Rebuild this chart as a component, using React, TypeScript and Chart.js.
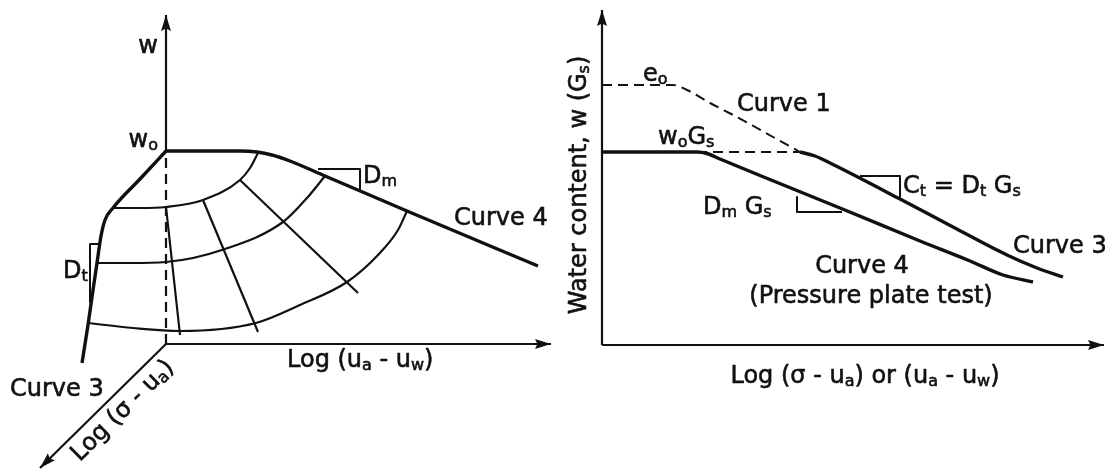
import { useEffect, useRef } from "react";
import { Chart, registerables } from "chart.js";

Chart.register(...registerables);

type Pt = [number, number];

// ---------- Left panel: water content surface (oblique 3-D sketch) ----------
// Units: horizontal = log(ua - uw) direction, vertical = w; the log(σ - ua) axis is drawn at 45°.
const wAxisSolid: Pt[] = [[0, 19.3], [0, 32.9]];
const wAxisHidden: Pt[] = [[0, 0], [0, 19.3]];
const suctionAxis: Pt[] = [[0, 0], [38.5, 0]];
const netStressAxis: Pt[] = [[0, 0], [-12.6, -12.4]];

const curve4Left: Pt[] = [[0, 19.3], [7.4, 19.3], [9.1, 19.2], [10.6, 18.9], [12.4, 18.3], [15.9, 16.8], [24.1, 13.3], [37.2, 7.8]];
const curve3Left: Pt[] = [[0, 19.3], [-2.6, 16.5], [-5.3, 13.6], [-6.1, 12.4], [-6.5, 10.8], [-6.9, 8.1], [-7.4, 4.7], [-7.8, 1.9], [-8.4, -1.9]];

const netStressArcA: Pt[] = [[-5.3, 13.6], [-2.6, 13.6], [0, 13.7], [3.7, 14.4], [7.4, 16.4], [8.4, 17.6], [9.2, 19.1]];
const netStressArcB: Pt[] = [[-6.8, 8.1], [-3.6, 8.1], [0, 8.2], [5.9, 9.5], [11.7, 12.2], [14.1, 14.6], [15.9, 16.8]];
const netStressArcC: Pt[] = [[-7.8, 2.1], [-3.3, 1.6], [1.4, 1.3], [9.0, 2.1], [13.4, 3.9], [18.1, 6.2], [21.2, 8.9], [23.2, 11.4], [24.1, 13.3]];

const suctionLine1: Pt[] = [[0, 13.7], [1.4, 0.9]];
const suctionLine2: Pt[] = [[3.7, 14.4], [9.2, 1.2]];
const suctionLine3: Pt[] = [[7.4, 16.4], [19.2, 5.1]];

const dtSlope: Pt[] = [[-6.6, 10.0], [-7.6, 10.0], [-7.6, 4.2]];
const dmSlope: Pt[] = [[15.2, 17.5], [19.4, 17.5], [19.4, 15.5]];

// ---------- Right panel: w(Gs) against log stress ----------
const yAxisRight: Pt[] = [[0, 0], [0, 33.5]];
const xAxisRight: Pt[] = [[0, 0], [50.2, 0]];

const curve1Right: Pt[] = [[0, 26.0], [7.1, 26.0], [8.5, 25.5], [10.8, 24.2], [13.5, 22.8], [17.1, 20.8], [19.8, 19.3]];
const initialLevel: Pt[] = [[9.5, 19.3], [19.8, 19.3]];
const curve4Right: Pt[] = [[0, 19.3], [9.5, 19.3], [10.5, 19.15], [11.8, 18.6], [15.8, 16.95], [23.8, 13.7], [31.8, 10.4], [36.8, 8.4], [40.1, 7.0], [43.1, 6.3]];
const curve3Right: Pt[] = [[19.8, 19.3], [21.3, 18.9], [22.8, 18.2], [29.8, 14.6], [35.1, 11.8], [40.5, 9.0], [43.5, 7.7], [46.1, 6.8]];

const ctSlope: Pt[] = [[25.8, 16.9], [29.8, 16.9], [29.8, 14.7]];
const dmGsSlope: Pt[] = [[19.5, 14.8], [19.5, 13.3], [24.0, 13.3]];

// ---------- Annotations ----------
type Note = { text: string; x: number; y: number; align: "left" | "center" | "right"; rotate?: number };

const leftNotes: Note[] = [
  { text: "w", x: -1.8, y: 29.7, align: "center" },
  { text: "w_{o}", x: -0.8, y: 20.3, align: "right" },
  { text: "D_{m}", x: 19.7, y: 16.7, align: "left" },
  { text: "D_{t}", x: -10.3, y: 7.2, align: "left" },
  { text: "Curve 4", x: 28.8, y: 12.5, align: "left" },
  { text: "Curve 3", x: -15.6, y: -4.6, align: "left" },
  { text: "Log (u_{a} - u_{w})", x: 12.1, y: -1.7, align: "left" },
  { text: "Log (σ - u_{a})", x: -4.3, y: -6.7, align: "center", rotate: -44.5 },
];

const rightNotes: Note[] = [
  { text: "e_{o}", x: 4.1, y: 27.0, align: "left" },
  { text: "Curve 1", x: 13.5, y: 24.0, align: "left" },
  { text: "w_{o}G_{s}", x: 5.6, y: 20.7, align: "left" },
  { text: "D_{m} G_{s}", x: 10.1, y: 13.7, align: "left" },
  { text: "C_{t} = D_{t} G_{s}", x: 30.1, y: 15.8, align: "left" },
  { text: "Curve 3", x: 41.1, y: 9.8, align: "left" },
  { text: "Curve 4", x: 26.0, y: 7.8, align: "center" },
  { text: "(Pressure plate test)", x: 26.9, y: 4.8, align: "center" },
  { text: "Log (σ - u_{a}) or (u_{a} - u_{w})", x: 26.3, y: -3.2, align: "center" },
  { text: "Water content, w (G_{s})", x: -2.2, y: 16.0, align: "center", rotate: -90 },
];

const INK = "#111111";
const FONT = '"DejaVu Sans", "Liberation Sans", sans-serif';
const MAIN_SIZE = 24;
const SUB_SIZE = 16;
const SUB_DROP = 5;

function parseRich(text: string) {
  const parts: { t: string; sub: boolean }[] = [];
  const re = /_\{([^}]*)\}/g;
  let last = 0;
  let m: RegExpExecArray | null;
  while ((m = re.exec(text))) {
    if (m.index > last) parts.push({ t: text.slice(last, m.index), sub: false });
    parts.push({ t: m[1], sub: true });
    last = re.lastIndex;
  }
  if (last < text.length) parts.push({ t: text.slice(last), sub: false });
  return parts;
}

const notesPlugin = {
  id: "diagramNotes",
  afterDatasetsDraw(chart: any, _args: any, opts: any) {
    const notes: Note[] = opts.notes || [];
    const ctx: CanvasRenderingContext2D = chart.ctx;
    const xs = chart.scales.x;
    const ys = chart.scales.y;
    ctx.save();
    ctx.fillStyle = INK;
    ctx.strokeStyle = INK;
    ctx.lineWidth = 0.6;
    ctx.lineJoin = "round";
    ctx.textBaseline = "middle";
    ctx.textAlign = "left";
    for (const n of notes) {
      const parts = parseRich(n.text);
      const widths = parts.map((p) => {
        ctx.font = `${p.sub ? SUB_SIZE : MAIN_SIZE}px ${FONT}`;
        return ctx.measureText(p.t).width;
      });
      const total = widths.reduce((a, b) => a + b, 0);
      ctx.save();
      ctx.translate(xs.getPixelForValue(n.x), ys.getPixelForValue(n.y));
      if (n.rotate) ctx.rotate((n.rotate * Math.PI) / 180);
      let x = n.align === "left" ? 0 : n.align === "center" ? -total / 2 : -total;
      parts.forEach((p, i) => {
        ctx.font = `${p.sub ? SUB_SIZE : MAIN_SIZE}px ${FONT}`;
        const y = p.sub ? SUB_DROP : 0;
        ctx.fillText(p.t, x, y);
        ctx.strokeText(p.t, x, y);
        x += widths[i];
      });
      ctx.restore();
    }
    ctx.restore();
  },
};

const arrowPlugin = {
  id: "axisArrows",
  afterDatasetsDraw(chart: any) {
    const ctx: CanvasRenderingContext2D = chart.ctx;
    chart.data.datasets.forEach((ds: any, i: number) => {
      if (!ds.arrowHead) return;
      const pts = chart.getDatasetMeta(i).data;
      const a = pts[pts.length - 2];
      const b = pts[pts.length - 1];
      const ang = Math.atan2(b.y - a.y, b.x - a.x);
      const len = 16;
      const half = 5;
      ctx.save();
      ctx.translate(b.x, b.y);
      ctx.rotate(ang);
      ctx.beginPath();
      ctx.moveTo(0, 0);
      ctx.lineTo(-len, -half);
      ctx.lineTo(-len * 0.85, 0);
      ctx.lineTo(-len, half);
      ctx.closePath();
      ctx.fillStyle = INK;
      ctx.fill();
      ctx.restore();
    });
  },
};

function line(pts: Pt[], width: number, extra: Record<string, unknown> = {}) {
  return {
    data: pts.map(([x, y]) => ({ x, y })),
    showLine: true,
    borderColor: INK,
    backgroundColor: INK,
    borderWidth: width,
    pointRadius: 0,
    pointHoverRadius: 0,
    fill: false,
    tension: 0,
    borderCapStyle: "butt",
    borderJoinStyle: "round",
    ...extra,
  };
}

const DASH = [10, 6];
const SMOOTH = { cubicInterpolationMode: "monotone", tension: 0.4 };

function leftDatasets() {
  return [
    line(wAxisSolid, 2.2, { arrowHead: true }),
    line(wAxisHidden, 2.2, { borderDash: DASH }),
    line(suctionAxis, 2.2, { arrowHead: true }),
    line(netStressAxis, 2.2, { arrowHead: true }),
    line(netStressArcA, 2.2, SMOOTH),
    line(netStressArcB, 2.2, SMOOTH),
    line(netStressArcC, 2.2, SMOOTH),
    line(suctionLine1, 2.2),
    line(suctionLine2, 2.2),
    line(suctionLine3, 2.2),
    line(dtSlope, 2),
    line(dmSlope, 2),
    line(curve4Left, 3.4, SMOOTH),
    line(curve3Left, 3.4, SMOOTH),
  ];
}

function rightDatasets() {
  return [
    line(yAxisRight, 2.2, { arrowHead: true }),
    line(xAxisRight, 2.2, { arrowHead: true }),
    line(curve1Right, 2, { borderDash: DASH, ...SMOOTH }),
    line(initialLevel, 2, { borderDash: DASH }),
    line(ctSlope, 2),
    line(dmGsSlope, 2),
    line(curve4Right, 3.4, SMOOTH),
    line(curve3Right, 3.4, SMOOTH),
  ];
}

function makeConfig(datasets: any[], xr: [number, number], yr: [number, number], notes: Note[]): any {
  return {
    type: "scatter",
    data: { datasets },
    options: {
      responsive: false,
      maintainAspectRatio: false,
      animation: false,
      events: [],
      layout: { padding: 0 },
      plugins: {
        legend: { display: false },
        tooltip: { enabled: false },
        diagramNotes: { notes },
      },
      scales: {
        x: { type: "linear", display: false, min: xr[0], max: xr[1] },
        y: { type: "linear", display: false, min: yr[0], max: yr[1] },
      },
    },
    plugins: [notesPlugin, arrowPlugin],
  };
}

export default function App() {
  const leftRef = useRef<HTMLCanvasElement>(null);
  const rightRef = useRef<HTMLCanvasElement>(null);

  useEffect(() => {
    const left = new Chart(
      leftRef.current!,
      makeConfig(leftDatasets(), [-16.6, 39.4], [-12.7, 34.4], leftNotes)
    );
    const right = new Chart(
      rightRef.current!,
      makeConfig(rightDatasets(), [-4.2, 50.4], [-12.6, 34.5], rightNotes)
    );
    return () => {
      left.destroy();
      right.destroy();
    };
  }, []);

  return (
    <div style={{ position: "fixed", left: 0, top: 0, width: 1106, height: 471, background: "#fff" }}>
      <canvas ref={leftRef} width={560} height={471} style={{ position: "absolute", left: 0, top: 0, width: 560, height: 471 }} />
      <canvas ref={rightRef} width={546} height={471} style={{ position: "absolute", left: 560, top: 0, width: 546, height: 471 }} />
    </div>
  );
}
